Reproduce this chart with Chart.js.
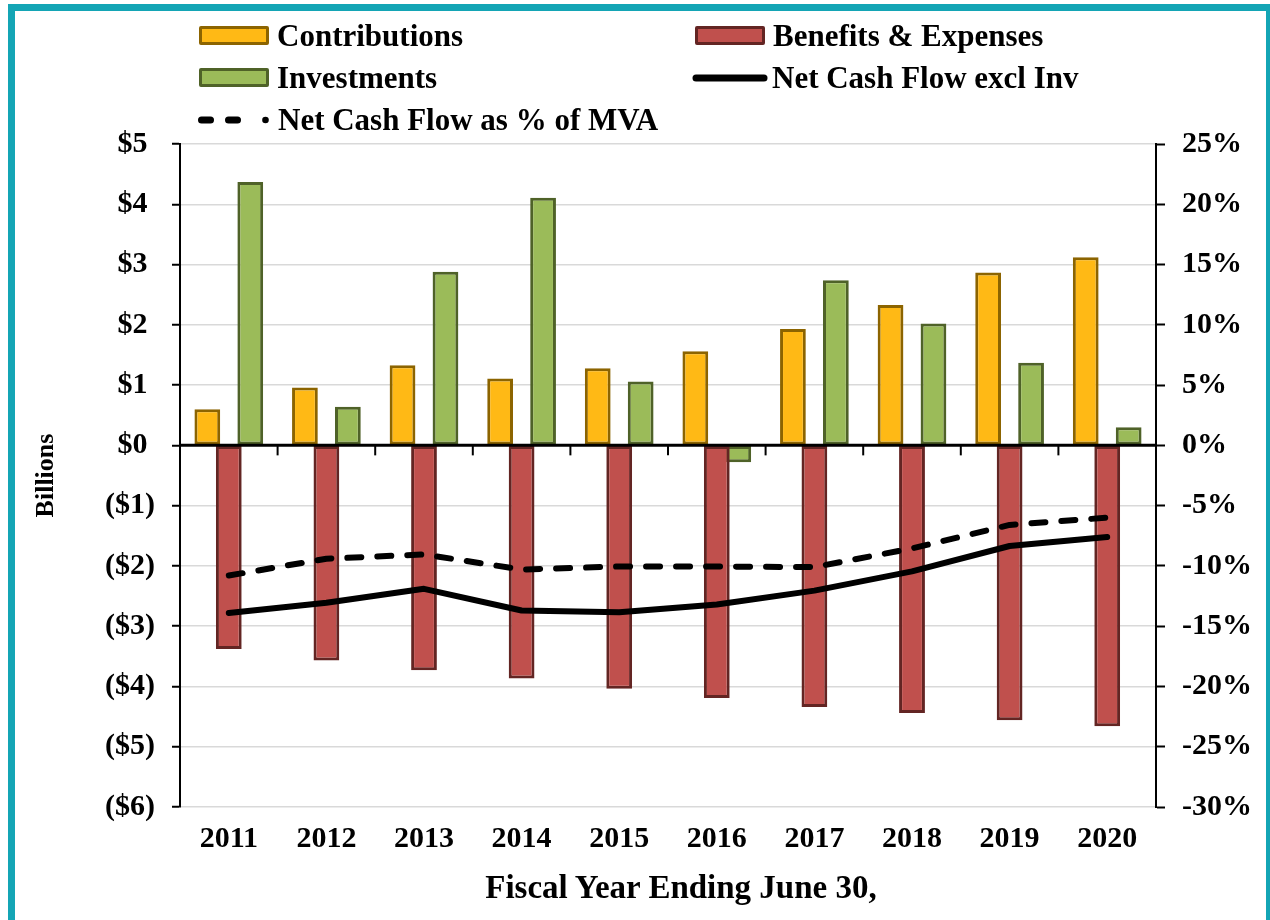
<!DOCTYPE html>
<html>
<head>
<meta charset="utf-8">
<script src="https://cdn.jsdelivr.net/npm/chart.js@4.4.1/dist/chart.umd.min.js"></script>
<style>
  html, body { margin: 0; padding: 0; background: #fff; }
  body { width: 1270px; height: 920px; position: relative; overflow: hidden; }
  #frame {
    position: absolute; left: 8px; top: 4px; width: 1265px; height: 940px;
    border: 7px solid #14A5B5; box-sizing: border-box;
  }
  #chart { position: absolute; left: 0; top: 0; }
  .leg {
    position: absolute; height: 31px; display: flex; align-items: center;
    font: bold 31px "Liberation Serif", "Times New Roman", serif; line-height: 31px;
    color: #000; white-space: nowrap;
  }
  .swatch { width: 64px; height: 13px; border: 3px solid; border-radius: 2px; margin-right: 8px; }
  .leg svg { margin-right: 4px; }
  #xtitle {
    position: absolute; left: 481px; width: 400px; top: 868px; text-align: center;
    font: bold 33px "Liberation Serif", "Times New Roman", serif; line-height: 38px; color: #000;
  }
</style>
</head>
<body>
<div id="frame"></div>
<canvas id="chart" width="1270" height="920"></canvas>

<div class="leg" style="left:199px; top:20px;"><div class="swatch" style="background:#FFB915;border-color:#8C6400;"></div>Contributions</div>
<div class="leg" style="left:695px; top:20px;"><div class="swatch" style="background:#C0504D;border-color:#632523;"></div>Benefits &amp; Expenses</div>
<div class="leg" style="left:199px; top:62px;"><div class="swatch" style="background:#9BBB59;border-color:#4F6228;"></div>Investments</div>
<div class="leg" style="left:692px; top:62px;">
  <svg width="76" height="14"><line x1="4" y1="7" x2="72" y2="7" stroke="#000" stroke-width="7" stroke-linecap="round"/></svg>Net Cash Flow excl Inv
</div>
<div class="leg" style="left:196px; top:104px;">
  <svg width="78" height="14">
    <line x1="5.5" y1="7" x2="14.5" y2="7" stroke="#000" stroke-width="7" stroke-linecap="round"/>
    <line x1="32.5" y1="7" x2="41.5" y2="7" stroke="#000" stroke-width="7" stroke-linecap="round"/>
    <circle cx="69.5" cy="7" r="3.3" fill="#000"/>
  </svg>Net Cash Flow as % of MVA
</div>
<div id="xtitle">Fiscal Year Ending June 30,</div>

<script>
const FONT = "'Liberation Serif', 'Times New Roman', serif";

// Values (billions, and % of MVA on the right axis)
const years = ["2011", "2012", "2013", "2014", "2015", "2016", "2017", "2018", "2019", "2020"];
const contributions = [0.60, 0.96, 1.33, 1.11, 1.28, 1.56, 1.93, 2.33, 2.87, 3.12];
const benefits = [-3.38, -3.57, -3.73, -3.87, -4.04, -4.19, -4.34, -4.44, -4.56, -4.66];
const investments = [4.37, 0.64, 2.88, 4.11, 1.06, -0.28, 2.74, 2.02, 1.37, 0.30];
const netCashFlow = [-2.78, -2.61, -2.38, -2.74, -2.77, -2.64, -2.41, -2.09, -1.67, -1.52];
const netPctOfMva = [-10.8, -9.4, -9.05, -10.3, -10.05, -10.05, -10.1, -8.55, -6.6, -6.0];

const leftTicks = { min: -6, max: 5, step: 1 };
const rightTicks = { min: -30, max: 25, step: 5 };

function dollarLabel(v) {
  return v < 0 ? "($" + (-v) + ")" : "$" + v + " ";
}

// Zero line on top of the bars, plus Excel-style tick marks between categories
const zeroAxisPlugin = {
  id: "zeroAxis",
  afterDatasetsDraw(chart) {
    const { ctx, chartArea, scales } = chart;
    const y0 = scales.y.getPixelForValue(0);
    ctx.save();
    ctx.strokeStyle = "#000";
    ctx.lineWidth = 3;
    ctx.beginPath();
    ctx.moveTo(chartArea.left, y0);
    ctx.lineTo(chartArea.right, y0);
    ctx.stroke();
    ctx.lineWidth = 2;
    for (let i = 1; i < years.length; i++) {
      const x = (scales.x.getPixelForValue(i - 1) + scales.x.getPixelForValue(i)) / 2;
      ctx.beginPath();
      ctx.moveTo(x, y0);
      ctx.lineTo(x, y0 + 10);
      ctx.stroke();
    }
    ctx.restore();
  },
};

const barCommon = { borderWidth: 3, borderSkipped: false, categoryPercentage: 0.66, barPercentage: 1.2, order: 2 };

new Chart(document.getElementById("chart"), {
  type: "bar",
  data: {
    labels: years,
    datasets: [
      { label: "Contributions", data: contributions, backgroundColor: "#FFB915", borderColor: "#8C6400", ...barCommon },
      { label: "Benefits & Expenses", data: benefits, backgroundColor: "#C0504D", borderColor: "#632523", ...barCommon },
      { label: "Investments", data: investments, backgroundColor: "#9BBB59", borderColor: "#4F6228", ...barCommon },
      {
        type: "line", label: "Net Cash Flow excl Inv", data: netCashFlow, yAxisID: "y",
        borderColor: "#000", borderWidth: 6, pointRadius: 0, tension: 0, order: 0,
        borderCapStyle: "round", borderJoinStyle: "round",
      },
      {
        type: "line", label: "Net Cash Flow as % of MVA", data: netPctOfMva, yAxisID: "y1",
        borderColor: "#000", borderWidth: 6, pointRadius: 0, tension: 0, order: 0,
        borderDash: [14, 16], borderCapStyle: "round", borderJoinStyle: "round",
      },
    ],
  },
  options: {
    responsive: false,
    animation: false,
    devicePixelRatio: 1,
    layout: { padding: { top: 144, left: 0, right: 0, bottom: 0 } },
    plugins: { legend: { display: false }, tooltip: { enabled: false } },
    scales: {
      x: {
        grid: { display: false },
        border: { display: false },
        ticks: { color: "#000", font: { family: FONT, size: 30, weight: "bold" }, padding: 6, maxRotation: 0 },
        afterFit: (s) => { s.height = 113; },
      },
      y: {
        position: "left",
        min: leftTicks.min, max: leftTicks.max,
        ticks: {
          stepSize: leftTicks.step, color: "#000", padding: 17,
          font: { family: FONT, size: 30, weight: "bold" },
          callback: (v) => dollarLabel(v),
        },
        grid: {
          color: (c) => (c.tick && c.tick.value === 0 ? "rgba(0,0,0,0)" : "#D9D9D9"),
          lineWidth: 1.5, tickLength: 8, tickColor: "#000", tickWidth: 2,
        },
        border: { color: "#000", width: 2 },
        title: {
          display: true, text: "Billions", color: "#000",
          font: { family: FONT, size: 26, weight: "bold" }, padding: { top: 31, bottom: 0 },
        },
        afterFit: (s) => { s.width = 180; },
      },
      y1: {
        position: "right",
        min: rightTicks.min, max: rightTicks.max,
        ticks: {
          stepSize: rightTicks.step, color: "#000", padding: 17,
          font: { family: FONT, size: 30, weight: "bold" },
          callback: (v) => v + "%",
        },
        grid: { drawOnChartArea: false, tickLength: 9, tickColor: "#000", tickWidth: 2 },
        border: { color: "#000", width: 2 },
        afterFit: (s) => { s.width = 114; },
      },
    },
  },
  plugins: [zeroAxisPlugin],
});
</script>
</body>
</html>
